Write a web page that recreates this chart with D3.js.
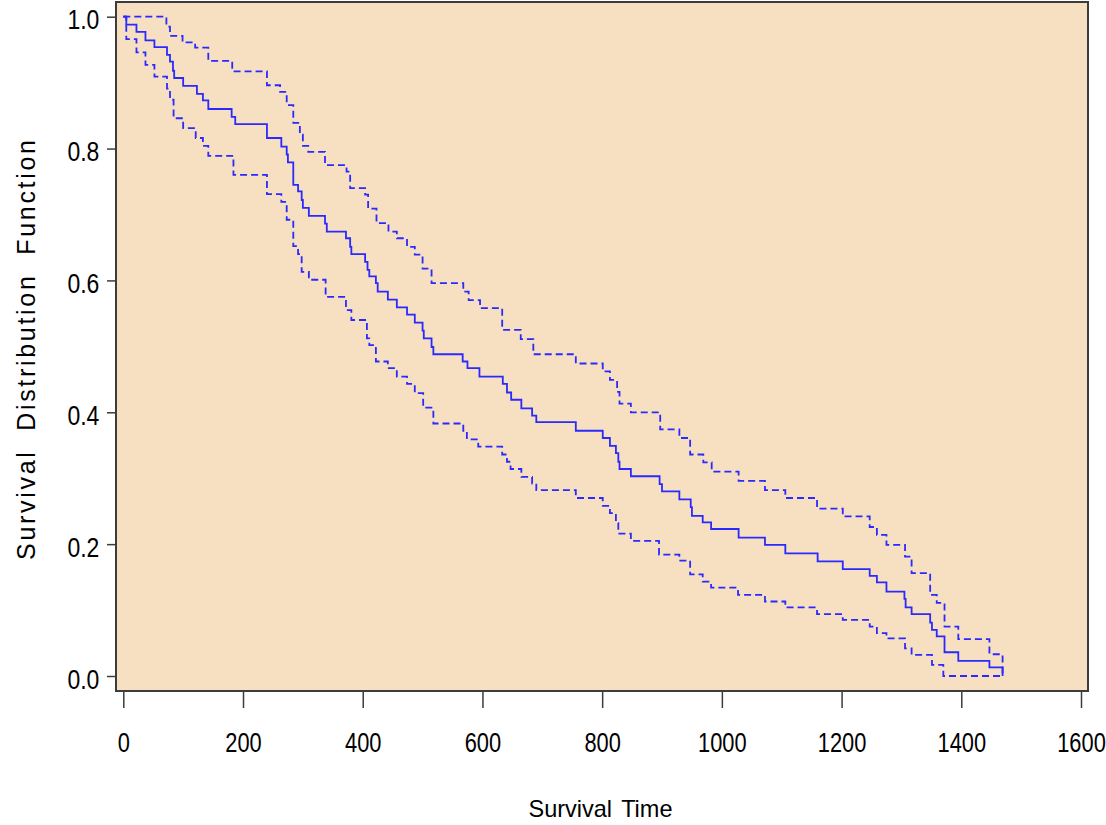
<!DOCTYPE html>
<html>
<head>
<meta charset="utf-8">
<script src="https://cdn.jsdelivr.net/npm/d3@7"></script>
<style>
body { margin: 0; background: white; }
text { font-family: "Liberation Sans", Arial, sans-serif; fill: black; }
</style>
</head>
<body>
<script>
/* Kaplan-Meier survival estimate with pointwise confidence limits */

// event times and survival estimates
var survTime = [0, 5, 22, 37, 52, 73, 78, 83, 85, 100, 123, 133, 142, 181, 187, 240, 264, 273, 275, 284, 292, 298, 300, 310, 337, 340, 372, 379, 381, 404, 408, 411, 422, 425, 442, 457, 474, 487, 500, 502, 515, 518, 567, 575, 595, 634, 641, 648, 665, 683, 690, 756, 801, 813, 823, 827, 829, 848, 896, 900, 929, 948, 950, 968, 982, 1028, 1072, 1106, 1160, 1202, 1247, 1259, 1275, 1305, 1307, 1317, 1348, 1351, 1359, 1372, 1395, 1447, 1469];
var survEst = [1, 0.988, 0.977, 0.964, 0.954, 0.942, 0.932, 0.918, 0.907, 0.895, 0.883, 0.873, 0.860, 0.848, 0.837, 0.816, 0.803, 0.791, 0.779, 0.745, 0.735, 0.722, 0.710, 0.698, 0.686, 0.674, 0.664, 0.651, 0.640, 0.628, 0.616, 0.606, 0.596, 0.583, 0.571, 0.559, 0.548, 0.536, 0.524, 0.512, 0.499, 0.488, 0.477, 0.467, 0.454, 0.443, 0.430, 0.419, 0.406, 0.395, 0.385, 0.372, 0.361, 0.349, 0.338, 0.325, 0.314, 0.303, 0.291, 0.280, 0.268, 0.256, 0.243, 0.233, 0.223, 0.210, 0.199, 0.186, 0.174, 0.162, 0.152, 0.142, 0.128, 0.117, 0.104, 0.094, 0.081, 0.070, 0.060, 0.036, 0.023, 0.013, 0];

// upper confidence limit
var upperTime = [0, 72, 78, 99, 120, 142, 182, 240, 262, 273, 284, 295, 300, 309, 337, 373, 379, 404, 409, 423, 443, 457, 474, 487, 500, 515, 568, 577, 596, 633, 664, 685, 756, 801, 813, 825, 829, 848, 897, 929, 947, 969, 983, 1028, 1072, 1106, 1159, 1202, 1247, 1259, 1275, 1306, 1317, 1348, 1359, 1372, 1395, 1447, 1469];
var upperEst = [1, 0.985, 0.971, 0.961, 0.953, 0.933, 0.917, 0.896, 0.886, 0.866, 0.839, 0.821, 0.804, 0.795, 0.775, 0.765, 0.740, 0.730, 0.709, 0.687, 0.674, 0.664, 0.651, 0.639, 0.618, 0.596, 0.583, 0.570, 0.558, 0.525, 0.511, 0.488, 0.474, 0.462, 0.449, 0.431, 0.413, 0.400, 0.374, 0.361, 0.336, 0.324, 0.310, 0.296, 0.282, 0.270, 0.254, 0.242, 0.226, 0.214, 0.199, 0.181, 0.156, 0.123, 0.111, 0.075, 0.056, 0.033, 0];

// lower confidence limit
var lowerTime = [0, 5, 22, 37, 52, 73, 78, 84, 100, 121, 133, 142, 184, 240, 264, 273, 284, 292, 298, 310, 338, 372, 381, 407, 411, 422, 442, 457, 474, 487, 501, 518, 568, 574, 593, 633, 641, 647, 665, 683, 690, 756, 801, 813, 823, 827, 848, 895, 929, 947, 968, 982, 1027, 1072, 1106, 1159, 1202, 1247, 1259, 1275, 1306, 1317, 1351, 1370, 1469];
var lowerEst = [1, 0.966, 0.946, 0.927, 0.909, 0.891, 0.874, 0.846, 0.831, 0.816, 0.804, 0.789, 0.760, 0.731, 0.719, 0.692, 0.652, 0.640, 0.613, 0.601, 0.575, 0.555, 0.540, 0.512, 0.502, 0.477, 0.467, 0.454, 0.443, 0.429, 0.407, 0.383, 0.372, 0.359, 0.348, 0.336, 0.325, 0.314, 0.302, 0.292, 0.282, 0.270, 0.258, 0.247, 0.232, 0.216, 0.205, 0.184, 0.175, 0.154, 0.143, 0.134, 0.123, 0.113, 0.104, 0.094, 0.085, 0.075, 0.065, 0.057, 0.042, 0.032, 0.017, 0, 0];

var xTicks = [0, 200, 400, 600, 800, 1000, 1200, 1400, 1600];
var yTicks = [0, 0.2, 0.4, 0.6, 0.8, 1.0];

var lineColour = "#2a2aff", frameColour = "#3c3c3c";

var svg = d3.select("body").append("svg")
	.attr("width", 1106)
	.attr("height", 825);

/* plot frame */
var frame = {left: 116, right: 1088, top: 2, bottom: 691};

svg.append("rect")
	.attr("x", frame.left).attr("y", frame.top)
	.attr("width", frame.right - frame.left).attr("height", frame.bottom - frame.top)
	.attr("fill", "#f7dfc2");

var x = d3.scaleLinear().domain([0, 1600]).range([123.3, 1081]);
var y = d3.scaleLinear().domain([0, 1]).range([676, 16.7]);

/* axes: the tick labels use a squeezed sans face like the original */
var xAxis = svg.append("g")
	.attr("transform", "translate(0," + frame.bottom + ")")
	.call(d3.axisBottom(x).tickValues(xTicks).tickFormat(d3.format("d")).tickSize(17).tickPadding(24));

xAxis.selectAll(".tick text")
	.style("font-size", "28px")
	.attr("transform", "scale(0.78,1)");

var yAxis = svg.append("g")
	.attr("transform", "translate(" + frame.left + ",0)")
	.call(d3.axisLeft(y).tickValues(yTicks).tickFormat(d3.format(".1f")).tickSize(9).tickPadding(7));

yAxis.selectAll(".tick text")
	.style("font-size", "28px")
	.attr("x", -16.7 / 0.82)
	.attr("dy", "0.43em")
	.attr("transform", "scale(0.82,1)");

svg.selectAll(".domain").remove();
svg.selectAll(".tick line").attr("stroke", frameColour).attr("stroke-width", 1.5);
svg.selectAll(".tick text").attr("fill", "black");

/* curves */
var line = d3.line()
	.x(function(d) { return x(d[0]); })
	.y(function(d) { return y(d[1]); })
	.curve(d3.curveStepAfter);

var curves = [
	{t: lowerTime, s: lowerEst, dash: "7,4"},
	{t: upperTime, s: upperEst, dash: "7,4"},
	{t: survTime, s: survEst, dash: null}
];

curves.forEach(function(c) {
	svg.append("path")
		.datum(d3.zip(c.t, c.s))
		.attr("d", line)
		.attr("fill", "none")
		.attr("stroke", lineColour)
		.attr("stroke-width", 1.8)
		.attr("stroke-dasharray", c.dash);
});

svg.append("rect")
	.attr("x", frame.left).attr("y", frame.top)
	.attr("width", frame.right - frame.left).attr("height", frame.bottom - frame.top)
	.attr("fill", "none").attr("stroke", frameColour).attr("stroke-width", 2);

/* titles */
svg.append("text")
	.attr("x", 600.5).attr("y", 817)
	.attr("text-anchor", "middle")
	.style("font-size", "24px")
	.style("word-spacing", "3px")
	.attr("textLength", 144)
	.attr("lengthAdjust", "spacingAndGlyphs")
	.text("Survival Time");

svg.append("text")
	.attr("transform", "translate(34.5,350) rotate(-90)")
	.attr("text-anchor", "middle")
	.style("font-size", "25px")
	.style("word-spacing", "9px")
	.attr("textLength", 420)
	.attr("lengthAdjust", "spacing")
	.text("Survival Distribution Function");
</script>
</body>
</html>
